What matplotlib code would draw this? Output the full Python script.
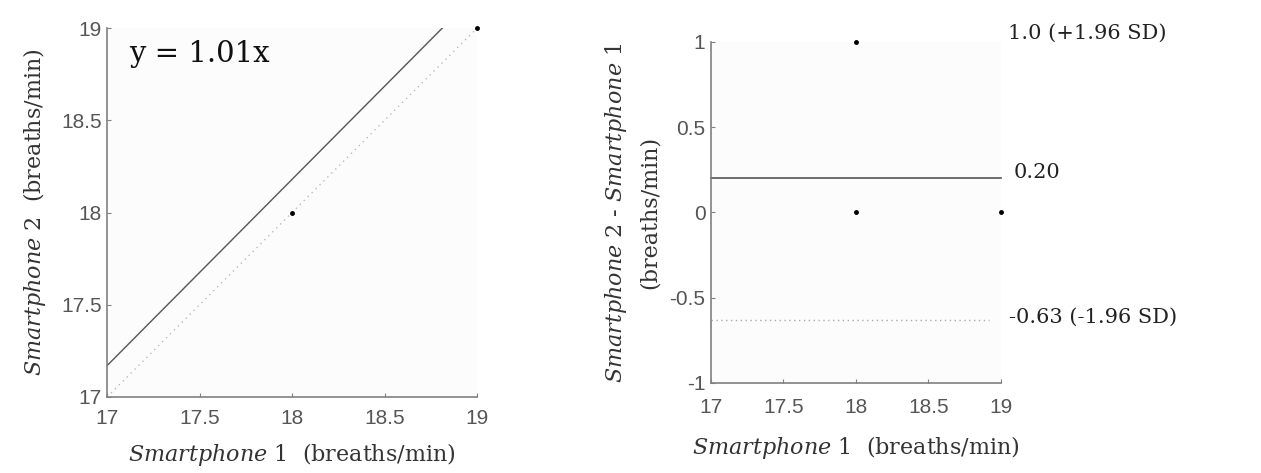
import matplotlib
matplotlib.use("Agg")
import matplotlib.pyplot as plt
import numpy as np

# Data
sp1 = [18, 19]
sp2 = [18, 19]
slope = 1.01
ba_mean_x = [18, 18, 19]
ba_diff = [1, 0, 0]
mean_diff = 0.20
upper_loa = 1.0
lower_loa = -0.63
ticks_xy = [17, 17.5, 18, 18.5, 19]
ticks_diff = [-1, -0.5, 0, 0.5, 1]
tick_labels_xy = ["17", "17.5", "18", "18.5", "19"]
tick_labels_diff = ["-1", "-0.5", "0", "0.5", "1"]

plt.rcParams["font.family"] = ["Liberation Sans", "DejaVu Sans"]
plt.rcParams["mathtext.fontset"] = "dejavuserif"

serif = "DejaVu Serif"
tick_color = "#555555"
spine_color = "#808080"
text_color = "#222222"

fig = plt.figure(figsize=(12.61, 4.73), dpi=100)
fig.patch.set_facecolor("white")

def style(ax, xpad):
    ax.set_facecolor("#fcfcfc")
    for s in ["top", "right"]:
        ax.spines[s].set_visible(False)
    for s in ["left", "bottom"]:
        ax.spines[s].set_color(spine_color)
        ax.spines[s].set_linewidth(1.2)
    ax.tick_params(direction="in", length=3, width=0.8, colors=spine_color,
                   labelcolor=tick_color, labelsize=15)
    ax.tick_params(axis="x", pad=xpad)
    ax.tick_params(axis="y", pad=4)

# Left: scatter
ax1 = fig.add_axes([0.0849, 0.1607, 0.2935, 0.780])
xs = np.array([17, 19])
ax1.plot(xs, slope * xs, color="#555555", lw=1.0)
ax1.plot(xs, xs, color="#bbbbbb", lw=1.0, ls=(0, (1, 3)))
ax1.plot(sp1, sp2, "o", color="black", ms=2.5, clip_on=False)
ax1.set_xlim(17, 19)
ax1.set_ylim(17, 19)
ax1.set_xticks(ticks_xy)
ax1.set_yticks(ticks_xy)
ax1.set_xticklabels(tick_labels_xy)
ax1.set_yticklabels(tick_labels_xy)
style(ax1, 9)
ax1.text(0.06, 0.93, "y = 1.01x", transform=ax1.transAxes, fontsize=21,
         family=serif, color="#111111", va="center", ha="left")
ax1.set_xlabel(r"$\mathit{Smartphone}$ 1  (breaths/min)", fontsize=16,
               family=serif, color="#333333", labelpad=9)
ax1.set_ylabel(r"$\mathit{Smartphone}$ 2  (breaths/min)", fontsize=16,
               family=serif, color="#333333", labelpad=9)

# Right: Bland-Altman
ax2 = fig.add_axes([0.5638, 0.1903, 0.230, 0.721])
ax2.plot([17, 19], [mean_diff, mean_diff], color="#555555", lw=1.2, clip_on=False)
ax2.plot([17, 18.92], [lower_loa, lower_loa], color="#aaaaaa", lw=1.0, ls=(0, (1, 2.5)))
ax2.plot(ba_mean_x, ba_diff, "o", color="black", ms=2.5, clip_on=False)
ax2.set_xlim(17, 19)
ax2.set_ylim(-1, 1)
ax2.set_xticks(ticks_xy)
ax2.set_yticks(ticks_diff)
ax2.set_xticklabels(tick_labels_xy)
ax2.set_yticklabels(tick_labels_diff)
style(ax2, 11)
ax2.set_xlabel(r"$\mathit{Smartphone}$ 1  (breaths/min)", fontsize=16,
               family=serif, color="#333333", labelpad=12)
ax2.set_ylabel(r"$\mathit{Smartphone}$ 2 - $\mathit{Smartphone}$ 1" + "\n(breaths/min)",
               fontsize=16, family=serif, color="#333333", labelpad=6,
               linespacing=1.6)
ax2.annotate(f"{upper_loa:.1f} (+1.96 SD)", xy=(1, upper_loa), xycoords=("axes fraction", "data"),
             xytext=(5, 6), textcoords="offset points", fontsize=15, family=serif,
             color=text_color, va="center", ha="left")
ax2.annotate(f"{mean_diff:.2f}", xy=(1, mean_diff), xycoords=("axes fraction", "data"),
             xytext=(9, 4), textcoords="offset points", fontsize=15, family=serif,
             color=text_color, va="center", ha="left")
ax2.annotate(f"{lower_loa:.2f} (-1.96 SD)", xy=(1, lower_loa), xycoords=("axes fraction", "data"),
             xytext=(6, 2), textcoords="offset points", fontsize=15, family=serif,
             color=text_color, va="center", ha="left")

fig.savefig("out.png", dpi=100)
